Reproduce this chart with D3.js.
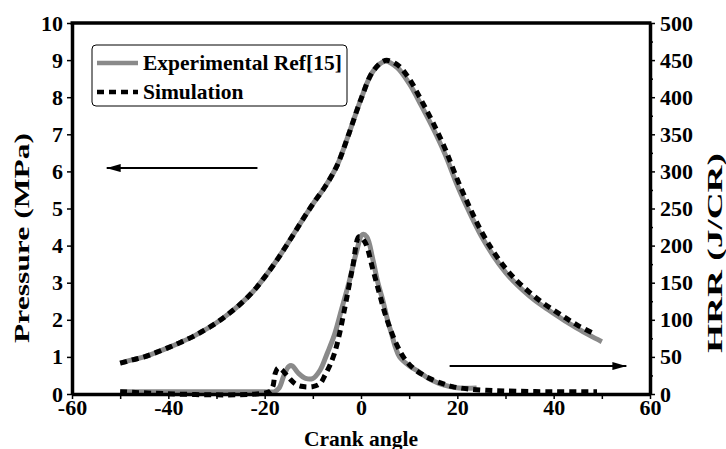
<!DOCTYPE html>
<html>
<head>
<meta charset="utf-8">
<script src="https://cdn.jsdelivr.net/npm/d3@7"></script>
<style>
  html, body { margin: 0; padding: 0; background: #fff; }
  svg { display: block; }
  text { font-family: "Liberation Serif", "Times New Roman", Times, serif; font-weight: bold; fill: #000; }
</style>
</head>
<body>
<svg id="chart" width="726" height="449"></svg>
<script>
// Crank angle (deg) vs cylinder pressure (MPa)
const pressureAngle = [-50, -47.5, -45, -42.5, -40, -37.5, -35, -32.5, -30, -27.5, -25, -22.5, -20, -17.5, -15, -12.5, -10, -7.5, -5, -2.5, 0, 2.5, 5, 7.5, 10, 12.5, 15, 17.5, 20, 22.5, 25, 27.5, 30, 32.5, 35, 37.5, 40, 42.5, 45, 47.5, 50];
const pressureExp   = [0.83, 0.92, 1.0, 1.12, 1.25, 1.39, 1.54, 1.72, 1.92, 2.16, 2.43, 2.75, 3.15, 3.6, 4.1, 4.62, 5.12, 5.58, 6.15, 7.02, 7.95, 8.7, 8.97, 8.8, 8.37, 7.78, 7.15, 6.45, 5.62, 4.9, 4.25, 3.72, 3.28, 2.93, 2.64, 2.39, 2.17, 1.96, 1.76, 1.58, 1.41];

const pressureSimAngle = [-50, -47.5, -45, -42.5, -40, -37.5, -35, -32.5, -30, -27.5, -25, -22.5, -20, -17.5, -15, -12.5, -10, -7.5, -5, -2.5, 0, 2.5, 5, 7.5, 10, 12.5, 15, 17.5, 20, 22.5, 25, 27.5, 30, 32.5, 35, 37.5, 40, 42.5, 45, 48.5];
const pressureSim      = [0.83, 0.92, 1.0, 1.12, 1.25, 1.39, 1.54, 1.72, 1.92, 2.16, 2.43, 2.75, 3.15, 3.6, 4.1, 4.62, 5.12, 5.58, 6.15, 7.02, 7.95, 8.7, 8.99, 8.88, 8.5, 7.92, 7.3, 6.6, 5.78, 5.05, 4.38, 3.84, 3.39, 3.03, 2.74, 2.48, 2.26, 2.05, 1.85, 1.62];

// Crank angle (deg) vs heat release rate (J/CR)
const hrrExpAngle = [-50, -20, -18, -17, -16, -15, -14.3, -13, -11.5, -10, -8.5, -7, -5.5, -4, -2.5, -1, 0.3, 1.2, 2.5, 3.5, 4.5, 5.5, 6.3, 7.2, 8, 10, 12, 14, 16.3, 18.5, 20.4, 24];
const hrrExp      = [3, 3, 3, 8, 25, 37, 38, 28, 21, 21, 32, 55, 80, 115, 150, 190, 215, 212, 180, 150, 127, 100, 82, 62, 50, 38, 30, 21, 14, 10, 8, 8];

const hrrSimAngle = [-50, -19, -18.3, -17.8, -17.2, -16.5, -15, -13.5, -12, -10, -8.5, -7.5, -6.5, -5.5, -4.5, -3.1, -1.7, -0.4, 0.8, 2.5, 3.8, 5.2, 7.3, 9, 10.8, 12.8, 14.9, 17, 19, 22, 26, 30, 40, 49];
const hrrSim      = [3, 3, 10, 28, 35, 33, 22, 13, 10, 10, 14, 25, 38, 55, 80, 125, 172, 212, 205, 167, 136, 104, 68, 48, 35, 26, 19, 14, 10, 7, 5, 4, 3, 3];

// Axis ticks
const xTicks = [-60, -40, -20, 0, 20, 40, 60];
const xMinorTicks = [-50, -30, -10, 10, 30, 50];
const pressureTicks = [0, 1, 2, 3, 4, 5, 6, 7, 8, 9, 10];
const hrrTicks = [0, 50, 100, 150, 200, 250, 300, 350, 400, 450, 500];
const hrrMinorTicks = [25, 75, 125, 175, 225, 275, 325, 375, 425, 475];

const seriesNames = ["Experimental Ref[15]", "Simulation"];

const W = 726, H = 449;
const margin = { left: 72, right: 76, top: 23, bottom: 55 };
const grey = "#8a8a8a";
const serif = "Liberation Serif, Times New Roman, serif";

const svg = d3.select("#chart");

const x = d3.scaleLinear().domain([-60, 60]).range([margin.left, W - margin.right]);
const yP = d3.scaleLinear().domain([0, 10]).range([H - margin.bottom, margin.top]);
const yH = d3.scaleLinear().domain([0, 500]).range([H - margin.bottom, margin.top]);

const fontSize = 21;
const tickFontSize = 22;

// Curves
const zipLine = (xs, ys, yScale) => d3.line()
  .x((d, i) => x(xs[i]))
  .y((d, i) => yScale(ys[i]))
  .curve(d3.curveCatmullRom.alpha(0.5))(ys);

const curves = svg.append("g").attr("fill", "none");

curves.append("path").attr("d", zipLine(pressureAngle, pressureExp, yP))
  .attr("stroke", grey).attr("stroke-width", 5);
curves.append("path").attr("d", zipLine(hrrExpAngle, hrrExp, yH))
  .attr("stroke", grey).attr("stroke-width", 5);

curves.append("path").attr("d", zipLine(pressureSimAngle, pressureSim, yP))
  .attr("stroke", "#000").attr("stroke-width", 5).attr("stroke-dasharray", "7,5");
curves.append("path").attr("d", zipLine(hrrSimAngle, hrrSim, yH))
  .attr("stroke", "#000").attr("stroke-width", 5).attr("stroke-dasharray", "7,5");

// Top border line of the frame
svg.append("line")
  .attr("x1", x(-60) - 1.5).attr("x2", x(60) + 1.5).attr("y1", yP(10)).attr("y2", yP(10))
  .attr("stroke", "#000").attr("stroke-width", 3.5);

// Axes
function styleAxis(g) {
  g.attr("font-family", serif);
  g.select(".domain").attr("stroke", "#000").attr("stroke-width", 3.5);
  g.selectAll(".tick line").attr("stroke", "#000").attr("stroke-width", 1.5);
  g.selectAll(".tick text").attr("font-size", tickFontSize).attr("font-weight", "bold");
}

// minor ticks
svg.append("g")
  .attr("transform", `translate(0,${yP(0)})`)
  .call(d3.axisBottom(x).tickValues(xMinorTicks).tickSize(5).tickSizeOuter(0).tickFormat(""))
  .call(g => { g.select(".domain").remove(); g.selectAll(".tick line").attr("stroke-width", 1.5); });

svg.append("g")
  .attr("transform", `translate(${x(60)},0)`)
  .call(d3.axisRight(yH).tickValues(hrrMinorTicks).tickSize(3).tickSizeOuter(0).tickFormat(""))
  .call(g => { g.select(".domain").remove(); g.selectAll(".tick line").attr("stroke-width", 1.5); });

svg.append("g")
  .attr("transform", `translate(0,${yP(0)})`)
  .call(d3.axisBottom(x).tickValues(xTicks).tickSize(5).tickSizeOuter(0).tickPadding(0).tickFormat(d => String(d)))
  .call(styleAxis);

svg.append("g")
  .attr("transform", `translate(${x(-60)},0)`)
  .call(d3.axisLeft(yP).tickValues(pressureTicks).tickSize(5).tickSizeOuter(0).tickPadding(4))
  .call(styleAxis);

svg.append("g")
  .attr("transform", `translate(${x(60)},0)`)
  .call(d3.axisRight(yH).tickValues(hrrTicks).tickSize(5).tickSizeOuter(0).tickPadding(5))
  .call(styleAxis);

// Axis titles
svg.append("text")
  .attr("x", (x(-60) + x(60)) / 2).attr("y", 446)
  .attr("text-anchor", "middle").attr("font-size", 21.5)
  .text("Crank angle");

// Vertical titles are drawn in a tall, narrow face: stretch along the text direction
function verticalTitle(label, cx, cy, length) {
  const t = svg.append("text")
    .attr("text-anchor", "middle").attr("font-size", fontSize)
    .text(label);
  const natural = t.node().getComputedTextLength();
  t.attr("transform", `translate(${cx},${cy}) rotate(-90) scale(${length / natural},1)`);
}
verticalTitle("Pressure (MPa)", 29, 238, 210);
verticalTitle("HRR (J/CR)", 722, 253, 200);

// Direction arrows: pressure curve reads on the left axis, HRR on the right
const defs = svg.append("defs");
defs.append("marker")
  .attr("id", "head").attr("viewBox", "0 0 14 8")
  .attr("refX", 14).attr("refY", 4)
  .attr("markerWidth", 14).attr("markerHeight", 8)
  .attr("markerUnits", "userSpaceOnUse").attr("orient", "auto")
  .append("path").attr("d", "M0,0 L14,4 L0,8 Z").attr("fill", "#000");

svg.append("line")
  .attr("x1", x(-21.5)).attr("x2", x(-52.8))
  .attr("y1", yP(6.09)).attr("y2", yP(6.09))
  .attr("stroke", "#000").attr("stroke-width", 2).attr("marker-end", "url(#head)");

svg.append("line")
  .attr("x1", x(18.4)).attr("x2", x(55.1))
  .attr("y1", yH(37.7)).attr("y2", yH(37.7))
  .attr("stroke", "#000").attr("stroke-width", 2).attr("marker-end", "url(#head)");

// Legend
const legend = svg.append("g");
legend.append("rect")
  .attr("x", 92).attr("y", 45).attr("width", 255).attr("height", 61)
  .attr("rx", 4).attr("fill", "#fff").attr("stroke", "#000").attr("stroke-width", 1);
legend.append("line").attr("x1", 97).attr("x2", 138).attr("y1", 63).attr("y2", 63)
  .attr("stroke", grey).attr("stroke-width", 4.5);
legend.append("line").attr("x1", 97).attr("x2", 138).attr("y1", 92).attr("y2", 92)
  .attr("stroke", "#000").attr("stroke-width", 4.5).attr("stroke-dasharray", "7,5");
legend.append("text").attr("x", 143).attr("y", 69.5).attr("font-size", 21.5).text(seriesNames[0]);
legend.append("text").attr("x", 143).attr("y", 98.5).attr("font-size", 21.5).text(seriesNames[1]);
</script>
</body>
</html>
